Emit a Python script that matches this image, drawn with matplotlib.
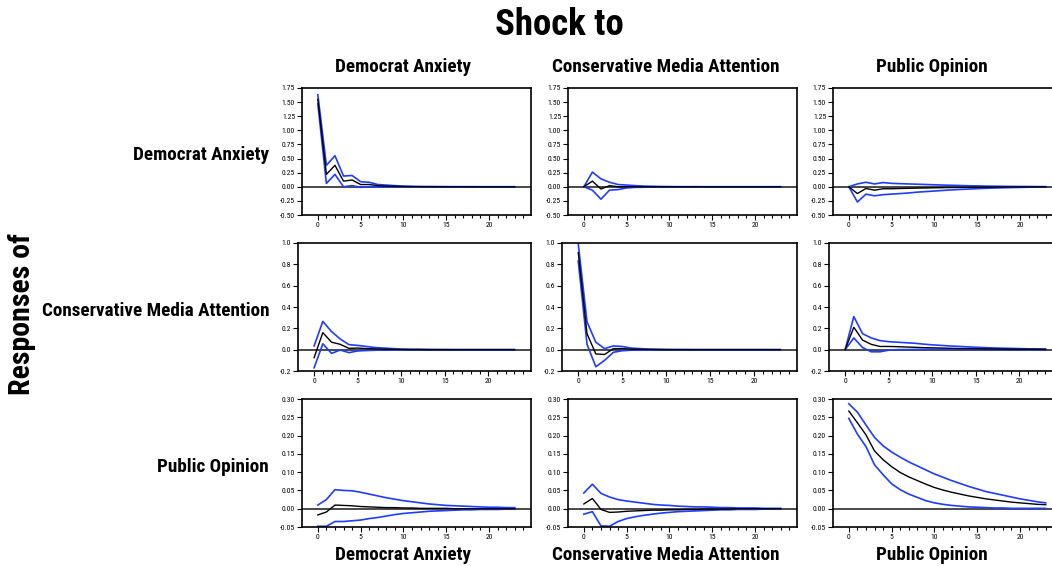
import numpy as np
import matplotlib
matplotlib.use("Agg")
import matplotlib.pyplot as plt
from matplotlib import font_manager
from matplotlib.ticker import FixedLocator

# ---- data: impulse responses (mean, upper band, lower band), periods 0..23 ----
periods = list(range(24))
variables = ["Democrat Anxiety", "Conservative Media Attention", "Public Opinion"]

# Responses of Democrat Anxiety
da_da_mean = [1.55, 0.22, 0.38, 0.10, 0.12, 0.04, 0.04, 0.02, 0.012, 0.008, 0.005, 0.003,
              0.002, 0.001, 0.001, 0.0, 0.0, 0.0, 0.0, 0.0, 0.0, 0.0, 0.0, 0.0]
da_da_up = [1.63, 0.38, 0.55, 0.19, 0.20, 0.09, 0.08, 0.04, 0.03, 0.02, 0.012, 0.008,
            0.005, 0.004, 0.003, 0.002, 0.001, 0.001, 0.001, 0.0, 0.0, 0.0, 0.0, 0.0]
da_da_lo = [1.47, 0.06, 0.22, 0.0, 0.02, -0.01, 0.0, 0.0, -0.003, -0.003, -0.002, -0.001,
            -0.001, 0.0, 0.0, 0.0, 0.0, 0.0, 0.0, 0.0, 0.0, 0.0, 0.0, 0.0]

da_cma_mean = [0.0, 0.10, -0.04, 0.02, 0.0, 0.0, 0.0, 0.0, 0.0, 0.0, 0.0, 0.0,
               0.0, 0.0, 0.0, 0.0, 0.0, 0.0, 0.0, 0.0, 0.0, 0.0, 0.0, 0.0]
da_cma_up = [0.0, 0.26, 0.14, 0.08, 0.04, 0.03, 0.02, 0.012, 0.008, 0.005, 0.003, 0.002,
             0.001, 0.001, 0.0, 0.0, 0.0, 0.0, 0.0, 0.0, 0.0, 0.0, 0.0, 0.0]
da_cma_lo = [0.0, -0.06, -0.22, -0.06, -0.05, -0.02, -0.01, -0.008, -0.005, -0.003, -0.002, -0.001,
             -0.001, 0.0, 0.0, 0.0, 0.0, 0.0, 0.0, 0.0, 0.0, 0.0, 0.0, 0.0]

da_po_mean = [0.0, -0.12, -0.03, -0.06, -0.035, -0.035, -0.03, -0.027, -0.024, -0.021, -0.018, -0.015,
              -0.013, -0.011, -0.009, -0.007, -0.006, -0.005, -0.004, -0.003, -0.002, -0.002, -0.001, -0.001]
da_po_up = [0.0, 0.05, 0.08, 0.05, 0.075, 0.06, 0.055, 0.05, 0.045, 0.04, 0.035, 0.03,
            0.026, 0.022, 0.018, 0.015, 0.012, 0.01, 0.008, 0.006, 0.005, 0.004, 0.003, 0.002]
da_po_lo = [0.0, -0.27, -0.13, -0.16, -0.14, -0.13, -0.12, -0.11, -0.095, -0.085, -0.075, -0.065,
            -0.055, -0.047, -0.04, -0.033, -0.027, -0.022, -0.018, -0.014, -0.011, -0.008, -0.006, -0.005]

# Responses of Conservative Media Attention
cma_da_mean = [-0.075, 0.16, 0.07, 0.05, 0.012, 0.015, 0.01, 0.008, 0.005, 0.003, 0.002, 0.001,
               0.001, 0.0, 0.0, 0.0, 0.0, 0.0, 0.0, 0.0, 0.0, 0.0, 0.0, 0.0]
cma_da_up = [0.035, 0.265, 0.17, 0.10, 0.047, 0.04, 0.03, 0.02, 0.015, 0.01, 0.006, 0.004,
             0.003, 0.002, 0.001, 0.001, 0.0, 0.0, 0.0, 0.0, 0.0, 0.0, 0.0, 0.0]
cma_da_lo = [-0.17, 0.055, -0.035, -0.003, -0.028, -0.012, -0.008, -0.005, -0.003, -0.002, -0.001, -0.001,
             0.0, 0.0, 0.0, 0.0, 0.0, 0.0, 0.0, 0.0, 0.0, 0.0, 0.0, 0.0]

cma_cma_mean = [0.91, 0.15, -0.04, -0.045, 0.01, 0.01, 0.005, 0.003, 0.002, 0.001, 0.0, 0.0,
                0.0, 0.0, 0.0, 0.0, 0.0, 0.0, 0.0, 0.0, 0.0, 0.0, 0.0, 0.0]
cma_cma_up = [0.99, 0.26, 0.07, 0.01, 0.035, 0.03, 0.015, 0.01, 0.006, 0.004, 0.002, 0.001,
              0.001, 0.0, 0.0, 0.0, 0.0, 0.0, 0.0, 0.0, 0.0, 0.0, 0.0, 0.0]
cma_cma_lo = [0.83, 0.05, -0.16, -0.10, -0.025, -0.01, -0.005, -0.003, -0.002, -0.001, 0.0, 0.0,
              0.0, 0.0, 0.0, 0.0, 0.0, 0.0, 0.0, 0.0, 0.0, 0.0, 0.0, 0.0]

cma_po_mean = [0.0, 0.21, 0.09, 0.05, 0.03, 0.03, 0.028, 0.025, 0.022, 0.019, 0.017, 0.015,
               0.013, 0.011, 0.010, 0.009, 0.008, 0.007, 0.006, 0.005, 0.004, 0.004, 0.003, 0.003]
cma_po_up = [0.0, 0.31, 0.15, 0.11, 0.085, 0.075, 0.07, 0.065, 0.06, 0.052, 0.045, 0.04,
             0.035, 0.031, 0.027, 0.022, 0.019, 0.016, 0.014, 0.012, 0.01, 0.008, 0.007, 0.006]
cma_po_lo = [0.0, 0.11, 0.02, -0.02, -0.02, -0.005, 0.0, 0.001, 0.002, 0.003, 0.003, 0.003,
             0.003, 0.002, 0.002, 0.002, 0.001, 0.001, 0.001, 0.001, 0.0, 0.0, 0.0, 0.0]

# Responses of Public Opinion
po_da_mean = [-0.017, -0.009, 0.010, 0.009, 0.008, 0.006, 0.005, 0.004, 0.003, 0.003, 0.002, 0.002,
              0.001, 0.001, 0.001, 0.001, 0.0, 0.0, 0.0, 0.0, 0.0, 0.0, 0.0, 0.0]
po_da_up = [0.010, 0.025, 0.052, 0.050, 0.049, 0.045, 0.040, 0.035, 0.030, 0.026, 0.022, 0.019,
            0.016, 0.013, 0.011, 0.009, 0.008, 0.007, 0.006, 0.005, 0.004, 0.004, 0.003, 0.003]
po_da_lo = [-0.048, -0.048, -0.035, -0.035, -0.033, -0.031, -0.027, -0.024, -0.020, -0.016, -0.013, -0.011,
            -0.009, -0.007, -0.006, -0.005, -0.004, -0.003, -0.003, -0.002, -0.002, -0.002, -0.001, -0.001]

po_cma_mean = [0.013, 0.028, -0.002, -0.010, -0.009, -0.007, -0.006, -0.005, -0.004, -0.004, -0.003, -0.003,
               -0.002, -0.002, -0.001, -0.001, -0.001, -0.001, 0.0, 0.0, 0.0, 0.0, 0.0, 0.0]
po_cma_up = [0.043, 0.067, 0.042, 0.032, 0.025, 0.021, 0.018, 0.015, 0.012, 0.010, 0.009, 0.007,
             0.006, 0.005, 0.005, 0.004, 0.003, 0.003, 0.002, 0.002, 0.002, 0.001, 0.001, 0.001]
po_cma_lo = [-0.015, -0.008, -0.047, -0.048, -0.035, -0.027, -0.022, -0.018, -0.015, -0.012, -0.010, -0.008,
             -0.007, -0.006, -0.005, -0.004, -0.003, -0.003, -0.002, -0.002, -0.002, -0.001, -0.001, -0.001]

po_po_mean = [0.267, 0.235, 0.202, 0.158, 0.134, 0.115, 0.099, 0.087, 0.077, 0.067, 0.058, 0.051,
              0.045, 0.040, 0.035, 0.031, 0.027, 0.024, 0.021, 0.018, 0.016, 0.014, 0.012, 0.011]
po_po_up = [0.287, 0.264, 0.229, 0.195, 0.172, 0.155, 0.141, 0.128, 0.117, 0.106, 0.095, 0.086,
            0.077, 0.069, 0.061, 0.054, 0.047, 0.042, 0.037, 0.032, 0.027, 0.023, 0.019, 0.016]
po_po_lo = [0.247, 0.204, 0.170, 0.120, 0.093, 0.068, 0.052, 0.040, 0.031, 0.022, 0.016, 0.012,
            0.009, 0.007, 0.005, 0.004, 0.003, 0.002, 0.002, 0.001, 0.001, 0.001, 0.001, 0.001]

# rows: responding variable, columns: shocked variable
panels = [
    [(da_da_mean, da_da_up, da_da_lo), (da_cma_mean, da_cma_up, da_cma_lo), (da_po_mean, da_po_up, da_po_lo)],
    [(cma_da_mean, cma_da_up, cma_da_lo), (cma_cma_mean, cma_cma_up, cma_cma_lo), (cma_po_mean, cma_po_up, cma_po_lo)],
    [(po_da_mean, po_da_up, po_da_lo), (po_cma_mean, po_cma_up, po_cma_lo), (po_po_mean, po_po_up, po_po_lo)],
]

row_yticks = [
    [-0.50, -0.25, 0.00, 0.25, 0.50, 0.75, 1.00, 1.25, 1.50, 1.75],
    [-0.2, 0.0, 0.2, 0.4, 0.6, 0.8, 1.0],
    [-0.05, 0.00, 0.05, 0.10, 0.15, 0.20, 0.25, 0.30],
]
row_yfmt = ["{:.2f}", "{:.1f}", "{:.2f}"]
xtick_labels = [0, 5, 10, 15, 20]

# ---- fonts: prefer a narrow sans, otherwise regular sans at a smaller size ----
available = {f.name for f in font_manager.fontManager.ttflist}
scale = 0.85
family = "Liberation Sans"
for cand in ["Liberation Sans Narrow", "Arial Narrow", "Roboto Condensed", "Open Sans Condensed"]:
    if cand in available:
        family, scale = cand, 1.0
        break
plt.rcParams["font.family"] = [family, "DejaVu Sans"]

W, H = 1052, 566
fig = plt.figure(figsize=(W / 100, H / 100), dpi=100)

# axes boxes in pixel coordinates: (left, top, right, bottom)
row_tops = [88, 243, 399]
row_bottoms = [215, 371, 527]
col_lefts = [[302, 568, 833], [298, 562, 829], [302, 568, 833]]
col_rights = [531, 797, 1062]

blue = "#1f3cff"
for r in range(3):
    for c in range(3):
        l, t, rr, b = col_lefts[r][c], row_tops[r], col_rights[c], row_bottoms[r]
        ax = fig.add_axes([l / W, 1 - b / H, (rr - l) / W, (b - t) / H])
        mean, up, lo = panels[r][c]
        ax.axhline(0, color="#3a3a3a", lw=1.3, zorder=1)
        ax.plot(periods, up, color=blue, lw=1.2, zorder=2)
        ax.plot(periods, lo, color=blue, lw=1.2, zorder=2)
        ax.plot(periods, mean, color="black", lw=1.0, zorder=3)
        yt = row_yticks[r]
        ax.set_ylim(yt[0], yt[-1])
        ax.set_yticks(yt)
        ax.set_yticklabels([row_yfmt[r].format(v) for v in yt])
        ax.set_xlim(-1.85, 24.9)
        ax.xaxis.set_major_locator(FixedLocator(xtick_labels))
        ax.xaxis.set_minor_locator(FixedLocator(list(range(0, 25))))
        ax.tick_params(axis="both", which="major", labelsize=5.5 * (0.95 if scale < 1 else 1),
                       length=3.5, width=0.8, pad=1.5, direction="out", colors="black")
        ax.tick_params(axis="x", which="minor", length=2, width=0.8, direction="out")
        for s in ax.spines.values():
            s.set_linewidth(1.2)
            s.set_color("black")

# ---- titles and labels ----
fig.text(559 / W, 1 - 25 / H, "Shock to", ha="center", va="center",
         fontsize=26.5 * scale, fontweight="bold")
fig.text(22 / W, 1 - 314 / H, "Responses of", ha="center", va="center",
         rotation=90, fontsize=21.5 * scale, fontweight="bold")

col_title_x = [403, 666, 932]
for c, name in enumerate(variables):
    fig.text(col_title_x[c] / W, 1 - 67 / H, name, ha="center", va="center",
             fontsize=13.8 * scale, fontweight="bold")
    fig.text(col_title_x[c] / W, 1 - 555 / H, name, ha="center", va="center",
             fontsize=13.8 * scale, fontweight="bold")

row_label_y = [155, 311, 467]
for r, name in enumerate(variables):
    fig.text(269 / W, 1 - row_label_y[r] / H, name, ha="right", va="center",
             fontsize=13.8 * scale, fontweight="bold")

fig.savefig("out.png", dpi=100)
